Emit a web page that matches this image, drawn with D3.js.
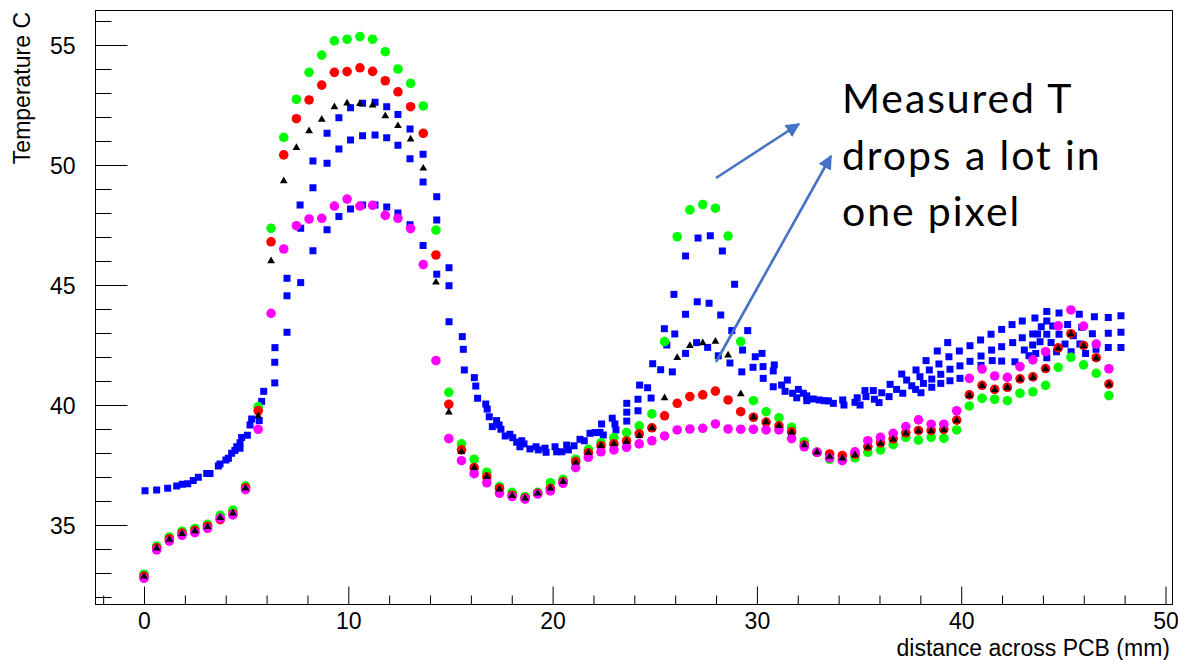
<!DOCTYPE html>
<html>
<head>
<meta charset="utf-8">
<script src="https://cdn.jsdelivr.net/npm/d3@7"></script>
<style>
  html, body { margin: 0; padding: 0; background: #fff; }
  svg { display: block; }
</style>
</head>
<body>
<svg id="chart" width="1178" height="660"></svg>
<script>
// Positions along the board (mm), one per sensor pixel column
const xPos = [0.00, 0.62, 1.24, 1.86, 2.49, 3.11, 3.73, 4.35, 4.97, 5.59,
  6.22, 6.84, 7.46, 8.08, 8.70, 9.32, 9.94, 10.57, 11.19, 11.81,
  12.43, 13.05, 13.67, 14.29, 14.92, 15.54, 16.16, 16.78, 17.40, 18.02,
  18.65, 19.27, 19.89, 20.51, 21.13, 21.75, 22.37, 23.00, 23.62, 24.24,
  24.86, 25.48, 26.10, 26.72, 27.35, 27.97, 28.59, 29.21, 29.83, 30.45,
  31.08, 31.70, 32.32, 32.94, 33.56, 34.18, 34.80, 35.43, 36.05, 36.67,
  37.29, 37.91, 38.53, 39.15, 39.78, 40.40, 41.02, 41.64, 42.26, 42.88,
  43.51, 44.13, 44.75, 45.37, 45.99, 46.61, 47.23];

// Temperature readings (C) per column
const greenT = [32.95, 34.12, 34.50, 34.74, 34.85, 35.03, 35.40, 35.62, 36.62, 39.93,
  47.36, 51.15, 52.74, 53.86, 54.58, 55.17, 55.24, 55.35, 55.24, 54.72,
  54.00, 53.40, 52.46, 47.29, 40.53, 38.38, 37.74, 37.20, 36.60, 36.36,
  36.18, 36.36, 36.76, 36.90, 37.74, 38.15, 38.43, 38.64, 38.85, 39.13,
  39.63, 42.64, 47.01, 48.13, 48.35, 48.20, 47.04, 42.64, 40.18, 39.72,
  39.47, 39.07, 38.47, 38.03, 37.74, 37.72, 37.80, 38.03, 38.13, 38.35,
  38.65, 38.54, 38.65, 38.61, 38.96, 39.96, 40.28, 40.24, 40.18, 40.49,
  40.55, 40.82, 41.57, 41.99, 41.67, 41.32, 40.39];

const redT = [32.87, 34.05, 34.42, 34.66, 34.77, 34.95, 35.22, 35.47, 36.55, 39.76,
  46.80, 50.42, 51.93, 52.71, 53.33, 53.86, 53.89, 54.05, 53.90, 53.51,
  53.05, 52.43, 51.32, 46.25, 40.03, 38.13, 37.39, 37.01, 36.53, 36.24,
  36.12, 36.32, 36.53, 36.80, 37.64, 38.01, 38.30, 38.38, 38.50, 38.80,
  39.05, 39.55, 40.07, 40.35, 40.42, 40.58, 40.21, 39.72, 39.49, 39.29,
  39.13, 38.88, 38.33, 38.03, 37.96, 37.89, 37.95, 38.27, 38.42, 38.59,
  38.84, 38.94, 38.94, 38.98, 39.37, 40.42, 40.82, 40.65, 40.74, 41.09,
  41.17, 41.52, 42.38, 42.97, 42.48, 41.97, 40.87];

const blackT = [32.85, 34.03, 34.40, 34.64, 34.75, 34.93, 35.30, 35.49, 36.53, 39.54,
  46.00, 49.33, 50.72, 51.42, 51.90, 52.42, 52.57, 52.55, 52.49, 52.04,
  51.63, 51.07, 49.86, 45.11, 39.70, 38.05, 37.39, 37.01, 36.49, 36.22,
  36.11, 36.32, 36.53, 36.80, 37.60, 38.01, 38.30, 38.38, 38.47, 38.72,
  39.04, 40.29, 41.97, 42.47, 42.58, 42.65, 42.07, 40.46, 39.49, 39.29,
  39.13, 38.86, 38.33, 38.03, 37.85, 37.78, 37.92, 38.24, 38.40, 38.57,
  38.82, 38.92, 38.92, 38.96, 39.35, 40.40, 40.80, 40.63, 40.72, 41.07,
  41.15, 41.50, 42.36, 42.95, 42.46, 41.95, 40.85];

const magentaT = [32.78, 33.96, 34.33, 34.57, 34.68, 34.86, 35.28, 35.42, 36.47, 38.99,
  43.82, 46.50, 47.47, 47.75, 47.78, 48.29, 48.58, 48.29, 48.32, 47.90,
  47.78, 47.35, 45.85, 41.85, 38.60, 37.68, 37.14, 36.76, 36.32, 36.18,
  36.08, 36.29, 36.42, 36.74, 37.39, 37.82, 38.05, 38.13, 38.24, 38.38,
  38.51, 38.71, 38.96, 39.00, 39.03, 39.21, 39.00, 38.99, 38.99, 38.96,
  38.96, 38.60, 38.26, 38.03, 37.80, 37.68, 38.05, 38.51, 38.65, 38.82,
  39.10, 39.38, 39.20, 39.20, 39.76, 41.11, 41.50, 41.21, 41.15, 41.60,
  41.88, 42.22, 43.30, 43.96, 43.29, 42.54, 41.51];

// Finer scan (blue squares): positions (mm) and temperatures (C)
const blueX = [0.05, 0.62, 1.16, 1.60, 1.87, 2.14, 2.41, 2.66, 3.07, 3.23,
  3.64, 3.72, 4.01, 4.13, 4.29, 4.45, 4.54, 4.70, 4.70, 4.78,
  5.06, 5.19, 5.27, 5.64, 5.76, 5.86, 6.40, 6.40, 6.41, 7.00,
  7.00, 7.00, 7.67, 7.67, 7.64,
  8.27, 8.27, 8.27, 8.96, 8.96, 8.96, 9.54, 9.54, 9.54,
  10.11, 10.11, 10.11, 10.70, 10.70, 10.70, 11.31, 11.31, 11.31,
  11.88, 11.88, 11.88, 12.43, 12.43, 12.43, 13.02, 13.02, 13.02,
  13.66, 13.66, 13.66, 14.33, 14.33, 14.33, 14.93, 14.93, 14.93,
  15.58, 15.63, 15.68, 16.17, 16.24, 16.33, 16.73, 16.80, 16.90, 17.05,
  17.26, 17.38, 17.47, 17.68, 17.91, 18.05, 18.24, 18.40, 18.49, 18.60,
  18.89, 19.19, 19.30, 19.63, 19.68, 20.12, 20.20, 20.45, 20.69, 20.77,
  21.05, 21.34, 21.55, 21.83, 22.08, 22.32, 22.40, 22.48, 22.92, 23.05,
  23.10, 23.63, 23.63, 23.63, 24.18, 24.18, 24.26, 24.65, 24.82, 24.90,
  25.29, 25.47, 25.59, 25.86, 25.98, 25.94, 26.51, 26.51, 26.51, 27.05,
  27.08, 27.12, 27.59, 27.66, 27.72, 28.11, 28.23, 28.31, 28.68, 28.77,
  28.91, 29.26, 29.30, 29.55, 29.81, 29.92, 30.25, 30.30, 30.31, 30.80,
  30.85, 30.80, 31.21, 31.38, 31.49, 31.75, 31.95, 32.03, 32.27, 32.44,
  32.44, 32.76, 33.05, 33.30, 33.50, 33.74, 34.20, 34.26, 34.80, 34.91,
  35.05, 35.29, 35.34, 35.70, 35.75, 35.98, 36.11, 36.47, 36.52, 36.84,
  37.14, 37.09, 37.33, 37.58, 37.77, 37.79, 37.98, 38.15, 38.03, 38.28,
  38.44, 38.56, 38.56, 38.83, 38.91, 39.00, 39.00, 39.34, 39.40, 39.45,
  39.45, 39.91, 39.94, 39.94, 40.43, 40.43, 40.95, 40.97, 40.97, 41.46,
  41.49, 41.52, 41.98, 41.98, 41.98, 42.49, 42.52, 42.63, 42.99, 42.99,
  43.09, 43.32, 43.50, 43.50, 43.61, 43.65, 43.74, 43.86, 43.92, 44.19,
  44.19, 44.19, 44.19, 44.40, 44.48, 44.67, 44.79, 44.79, 45.08, 45.21,
  45.38, 45.49, 45.78, 45.81, 45.90, 46.09, 46.42, 46.52, 46.60, 47.20,
  47.20, 47.20, 47.82, 47.82, 47.82];

const blueY = [36.43, 36.46, 36.53, 36.63, 36.70, 36.72, 36.85, 36.99, 37.15, 37.15,
  37.46, 37.54, 37.71, 37.78, 37.99, 38.10, 38.26, 38.20, 38.43, 38.65,
  38.74, 39.17, 39.42, 39.35, 40.15, 40.57, 40.92, 41.78, 42.39, 43.03,
  44.55, 45.28, 45.10, 47.36, 48.33,
  50.17, 49.05, 46.43, 51.32, 50.07, 47.30, 51.97, 50.67, 47.85,
  52.39, 51.04, 48.17, 52.57, 51.22, 48.33, 52.61, 51.25, 48.33,
  52.43, 51.14, 48.25, 52.10, 50.82, 48.00, 51.50, 50.26, 47.51,
  50.45, 49.29, 46.65, 48.68, 47.71, 45.45, 45.72, 44.97, 43.47,
  42.85, 42.32, 41.46, 41.14, 40.79, 40.28, 40.04, 39.83, 39.51, 39.10,
  39.35, 39.17, 38.99, 38.71, 38.78, 38.64, 38.45, 38.26, 38.51, 38.38,
  38.17, 38.26, 38.13, 38.20, 38.03, 38.26, 38.05, 38.05, 38.33, 38.13,
  38.30, 38.57, 38.51, 38.82, 38.85, 38.86, 39.21, 38.75, 39.45, 39.21,
  38.96, 40.07, 39.70, 39.33, 40.24, 39.76, 40.83, 40.72, 40.29, 41.72,
  41.47, 43.18, 42.50, 41.38, 42.96, 44.61, 46.21, 43.78, 42.15, 42.60,
  44.30, 46.96, 42.40, 44.24, 47.05, 42.05, 43.75, 46.42, 41.75, 43.10,
  45.03, 41.38, 42.29, 43.10, 41.57, 42.01, 42.15, 41.60, 41.11, 41.42,
  41.67, 40.76, 40.83, 40.57, 41.04, 40.49, 40.30, 40.65, 40.49, 40.38,
  40.18, 40.25, 40.21, 40.18, 40.17, 40.07, 40.21, 40.00, 40.11, 40.30,
  40.00, 40.60, 40.35, 40.60, 40.24, 40.10, 40.51, 40.35, 40.86, 40.65,
  40.49, 41.29, 41.04, 40.80, 40.65, 41.46, 41.18, 40.90, 40.51, 41.85,
  41.46, 41.08, 40.74, 42.25, 41.71, 41.28, 40.90, 42.60, 42.01, 41.49,
  41.01, 42.25, 41.63, 41.11, 42.47, 41.82, 42.71, 42.04, 41.65, 42.95,
  42.29, 41.85, 43.15, 42.43, 41.83, 43.35, 42.60, 41.80, 43.50, 42.80,
  42.29, 42.05, 42.96, 42.50, 43.63, 42.15, 42.96, 42.64, 43.26, 43.90,
  43.50, 42.95, 41.97, 42.60, 43.29, 42.22, 43.83, 42.95, 42.54, 43.35,
  42.22, 42.89, 43.78, 42.54, 43.24, 42.15, 42.97, 43.68, 42.32, 43.65,
  42.99, 42.40, 43.72, 43.03, 42.40];

// Axis tick values
const xMajorTicks = [0, 10, 20, 30, 40, 50];
const xMinorTicks = [-2, 2, 4, 6, 8, 12, 14, 16, 18, 22, 24, 26, 28, 32, 34, 36, 38, 42, 44, 46, 48];
const yMajorTicks = [35, 40, 45, 50, 55];
const yMinorTicks = [32, 33, 34, 36, 37, 38, 39, 41, 42, 43, 44, 46, 47, 48, 49, 51, 52, 53, 54, 56];

const noteLines = ["Measured T", "drops a lot in", "one pixel"];

// ---- layout ----
const frame = { left: 95.5, top: 10.5, right: 1172.5, bottom: 604.5 };
const svg = d3.select("#chart");
const axisFont = "'Liberation Sans', Arial, Helvetica, sans-serif";

const x = d3.scaleLinear().domain([-2.374, 50.343]).range([frame.left, frame.right]);
const y = d3.scaleLinear().domain([31.6875, 56.4375]).range([frame.bottom, frame.top]);

svg.append("rect").attr("x", 0).attr("y", 0).attr("width", 1178).attr("height", 660).attr("fill", "#fff");

const clip = svg.append("defs").append("clipPath").attr("id", "plotclip");
clip.append("rect").attr("x", frame.left).attr("y", frame.top)
  .attr("width", frame.right - frame.left).attr("height", frame.bottom - frame.top);

// ---- axes (ticks point inward) ----
function styleAxis(g) {
  g.select(".domain").remove();
  g.selectAll(".tick line").attr("stroke", "#000").attr("stroke-width", 1);
}

const gx = svg.append("g").attr("transform", `translate(0,${frame.bottom})`)
  .call(d3.axisBottom(x).tickValues(xMajorTicks).tickSizeInner(-18).tickSizeOuter(0)
    .tickPadding(0).tickFormat(d3.format("d")));
styleAxis(gx);
gx.selectAll(".tick text").attr("y", 24).attr("dy", 0)
  .attr("font-family", axisFont).attr("font-size", 23).attr("fill", "#000");

const gxm = svg.append("g").attr("transform", `translate(0,${frame.bottom})`)
  .call(d3.axisBottom(x).tickValues(xMinorTicks).tickSizeInner(-9).tickSizeOuter(0).tickFormat(""));
styleAxis(gxm);

const gy = svg.append("g").attr("transform", `translate(${frame.left},0)`)
  .call(d3.axisLeft(y).tickValues(yMajorTicks).tickSizeInner(-32).tickSizeOuter(0)
    .tickPadding(20).tickFormat(d3.format("d")));
styleAxis(gy);
gy.selectAll(".tick text").attr("dy", "0.35em")
  .attr("font-family", axisFont).attr("font-size", 23).attr("fill", "#000");

const gym = svg.append("g").attr("transform", `translate(${frame.left},0)`)
  .call(d3.axisLeft(y).tickValues(yMinorTicks).tickSizeInner(-16).tickSizeOuter(0).tickFormat(""));
styleAxis(gym);

// frame
svg.append("rect")
  .attr("x", frame.left).attr("y", frame.top)
  .attr("width", frame.right - frame.left).attr("height", frame.bottom - frame.top)
  .attr("fill", "none").attr("stroke", "#000").attr("stroke-width", 1);

// axis titles
svg.append("text")
  .attr("x", 1170).attr("y", 656).attr("text-anchor", "end")
  .attr("font-family", axisFont).attr("font-size", 23).attr("fill", "#000")
  .text("distance across PCB (mm)");

svg.append("text")
  .attr("transform", "translate(30,12) rotate(-90)")
  .attr("text-anchor", "end")
  .attr("font-family", axisFont).attr("font-size", 23).attr("fill", "#000")
  .text("Temperature C");

// ---- markers ----
const plot = svg.append("g").attr("clip-path", "url(#plotclip)");

const blueData = blueX.map((v, i) => ({ x: v, t: blueY[i] }));
plot.append("g").selectAll("path").data(blueData).join("path")
  .attr("transform", d => `translate(${x(d.x)},${y(d.t)})`)
  .attr("d", d3.symbol(d3.symbolSquare, 49)())
  .attr("fill", "#0000ff");

function circleSeries(values, color) {
  const data = xPos.map((v, i) => ({ x: v, t: values[i] }));
  plot.append("g").selectAll("circle").data(data).join("circle")
    .attr("cx", d => x(d.x)).attr("cy", d => y(d.t)).attr("r", 4.8)
    .attr("fill", color);
}
circleSeries(greenT, "#00ff00");
circleSeries(redT, "#ff0000");
circleSeries(magentaT, "#ff00ff");

const blackData = xPos.map((v, i) => ({ x: v, t: blackT[i] }));
plot.append("g").selectAll("path").data(blackData).join("path")
  .attr("transform", d => `translate(${x(d.x)},${y(d.t)})`)
  .attr("d", d3.symbol(d3.symbolTriangle, 26)())
  .attr("fill", "#000");

// ---- annotation ----
const noteColor = "#4472c4";
svg.select("defs").append("marker")
  .attr("id", "arrowhead").attr("viewBox", "0 0 10 10")
  .attr("refX", 9).attr("refY", 5)
  .attr("markerWidth", 5.5).attr("markerHeight", 5.5)
  .attr("markerUnits", "strokeWidth")
  .attr("orient", "auto")
  .append("path").attr("d", "M0,0 L10,5 L0,10 Z").attr("fill", noteColor);

const arrows = [
  { x1: 716, y1: 178, x2: 799, y2: 124 },
  { x1: 716, y1: 362, x2: 831, y2: 156 }
];
svg.append("g").selectAll("line").data(arrows).join("line")
  .attr("x1", d => d.x1).attr("y1", d => d.y1)
  .attr("x2", d => d.x2).attr("y2", d => d.y2)
  .attr("stroke", noteColor).attr("stroke-width", 2.6)
  .attr("marker-end", "url(#arrowhead)");

svg.append("g").selectAll("text").data(noteLines).join("text")
  .attr("x", 842).attr("y", (d, i) => 113 + i * 56.7)
  .attr("font-family", "Lato, 'Open Sans', sans-serif")
  .attr("font-size", 41).attr("letter-spacing", 1.9).attr("fill", "#000")
  .text(d => d);
</script>
</body>
</html>
